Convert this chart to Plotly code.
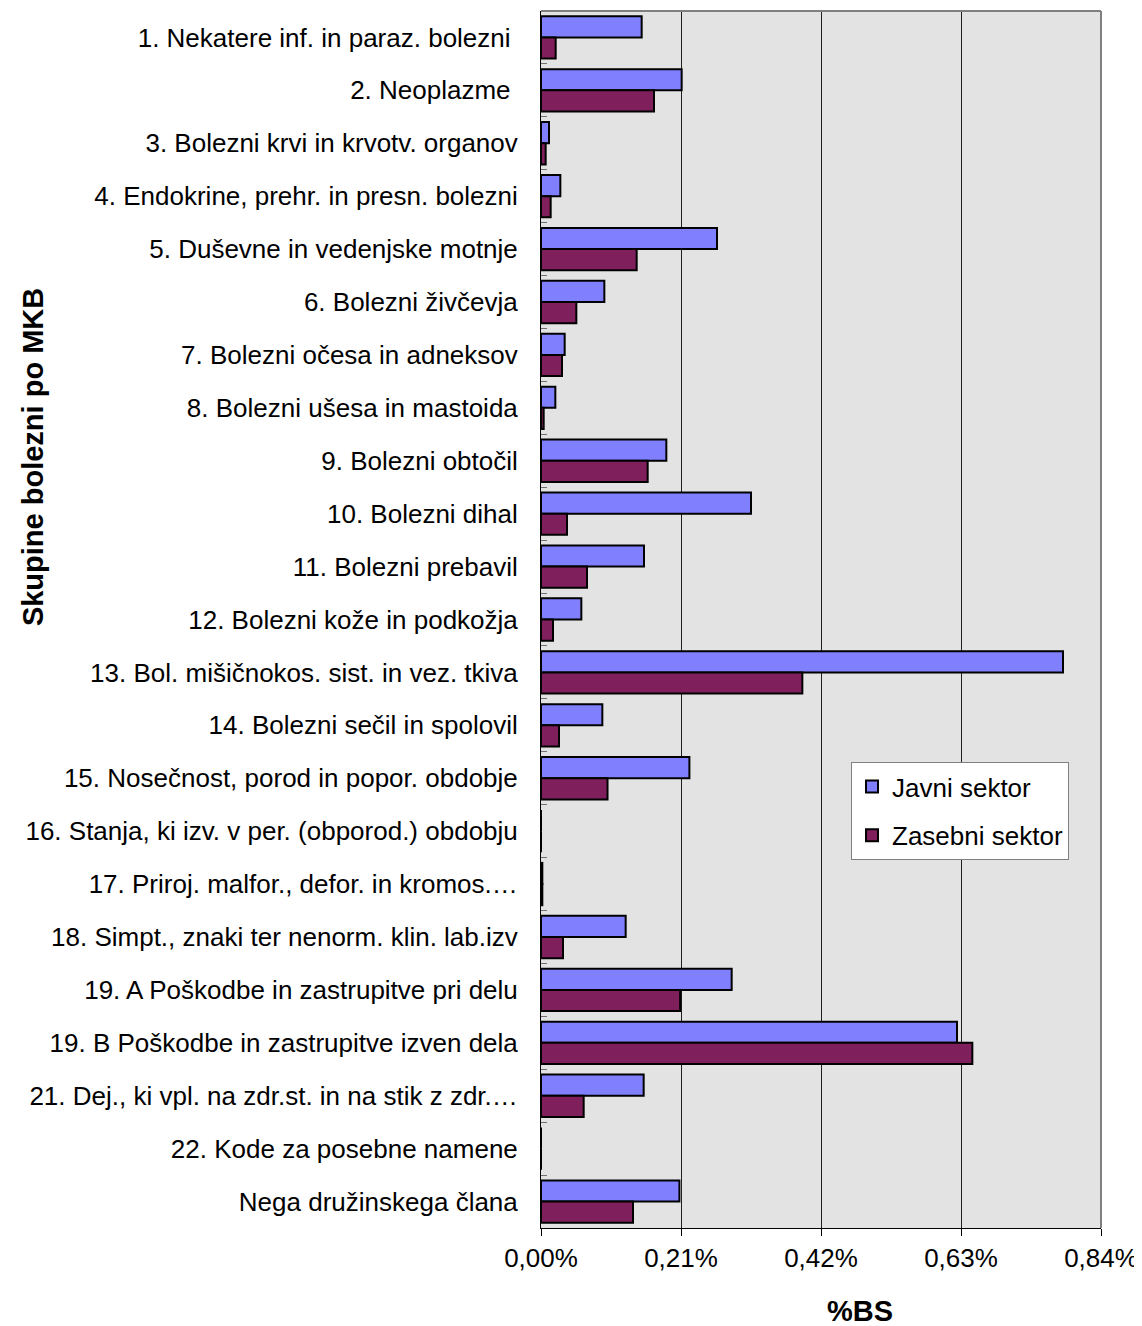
import plotly.graph_objects as go

categories = [
    "1. Nekatere inf. in paraz. bolezni ",
    "2. Neoplazme ",
    "3. Bolezni krvi in krvotv. organov",
    "4. Endokrine, prehr. in presn. bolezni",
    "5. Duševne in vedenjske motnje",
    "6. Bolezni živčevja",
    "7. Bolezni očesa in adneksov",
    "8. Bolezni ušesa in mastoida",
    "9. Bolezni obtočil",
    "10. Bolezni dihal",
    "11. Bolezni prebavil",
    "12. Bolezni kože in podkožja",
    "13. Bol. mišičnokos. sist. in vez. tkiva",
    "14. Bolezni sečil in spolovil",
    "15. Nosečnost, porod in popor. obdobje",
    "16. Stanja, ki izv. v per. (obporod.) obdobju",
    "17. Priroj. malfor., defor. in kromos.…",
    "18. Simpt., znaki ter nenorm. klin. lab.izv",
    "19. A Poškodbe in zastrupitve pri delu",
    "19. B Poškodbe in zastrupitve izven dela",
    "21. Dej., ki vpl. na zdr.st. in na stik z zdr.…",
    "22. Kode za posebne namene",
    "Nega družinskega člana",
]

javni = [0.151, 0.211, 0.012, 0.029, 0.264, 0.095, 0.0355, 0.0215, 0.188, 0.315,
         0.1545, 0.0605, 0.783, 0.092, 0.2226, 0.0, 0.002, 0.127, 0.286, 0.624,
         0.154, 0.0, 0.2076]
zasebni = [0.022, 0.1695, 0.007, 0.0145, 0.1435, 0.053, 0.0315, 0.004, 0.160, 0.039,
           0.069, 0.018, 0.392, 0.027, 0.0998, 0.0, 0.002, 0.033, 0.2087, 0.647,
           0.064, 0.0, 0.138]

tick_vals = [0.0, 0.21, 0.42, 0.63, 0.84]
tick_text = ["0,00%", "0,21%", "0,42%", "0,63%", "0,84%"]

FONT = "Liberation Sans, Arial, sans-serif"

fig = go.Figure()
fig.add_trace(go.Bar(
    name="Javni sektor", y=categories, x=javni, orientation="h",
    marker=dict(color="#8080FF", line=dict(color="black", width=2)),
    legendgroup="a",
))
fig.add_trace(go.Bar(
    name="Zasebni sektor", y=categories, x=zasebni, orientation="h",
    marker=dict(color="#7F1F5C", line=dict(color="black", width=2)),
    legendgroup="b",
))

fig.update_layout(
    width=1134, height=1318,
    margin=dict(l=533, r=41, t=3, b=98, autoexpand=False),
    paper_bgcolor="white",
    plot_bgcolor="#E3E3E3",
    barmode="group",
    bargap=0.2,
    bargroupgap=0.0,
    font=dict(family=FONT, size=26, color="black"),
    showlegend=True,
    legend=dict(
        x=0.5536, y=0.3829, xanchor="left", yanchor="top",
        bgcolor="white", bordercolor="#808080", borderwidth=1,
        font=dict(size=26, family=FONT),
        tracegroupgap=12,
        traceorder="grouped",
        itemwidth=30,
    ),
    xaxis=dict(
        range=[0, 0.84],
        tickvals=tick_vals, ticktext=tick_text,
        showgrid=True, gridcolor="#202020", gridwidth=1,
        zeroline=False,
        showline=True, linecolor="black", linewidth=1,
        ticks="outside", ticklen=7, tickcolor="black",
        tickfont=dict(size=26),
    ),
    yaxis=dict(
        autorange="reversed",
        showgrid=False, zeroline=False,
        showline=True, linecolor="black", linewidth=1,
        ticks="inside", tickson="boundaries", ticklen=6, tickcolor="#707070",
        ticklabelstandoff=17,
        tickfont=dict(size=26),
    ),
    shapes=[
        dict(type="line", xref="paper", yref="paper", x0=0, x1=1, y0=1, y1=1,
             line=dict(color="#808080", width=2)),
        dict(type="line", xref="paper", yref="paper", x0=1, x1=1, y0=0, y1=1,
             line=dict(color="#808080", width=2)),
    ],
    annotations=[
        dict(text="<b>Skupine bolezni po MKB</b>", xref="paper", yref="paper",
             x=-0.907, y=0.6335, textangle=-90, showarrow=False,
             font=dict(size=29, family=FONT), xanchor="center", yanchor="middle"),
        dict(text="<b>%BS</b>", xref="paper", yref="paper",
             x=0.5696, y=-0.068, showarrow=False,
             font=dict(size=29, family=FONT), xanchor="center", yanchor="middle"),
    ],
)

fig.write_html("out.html")
